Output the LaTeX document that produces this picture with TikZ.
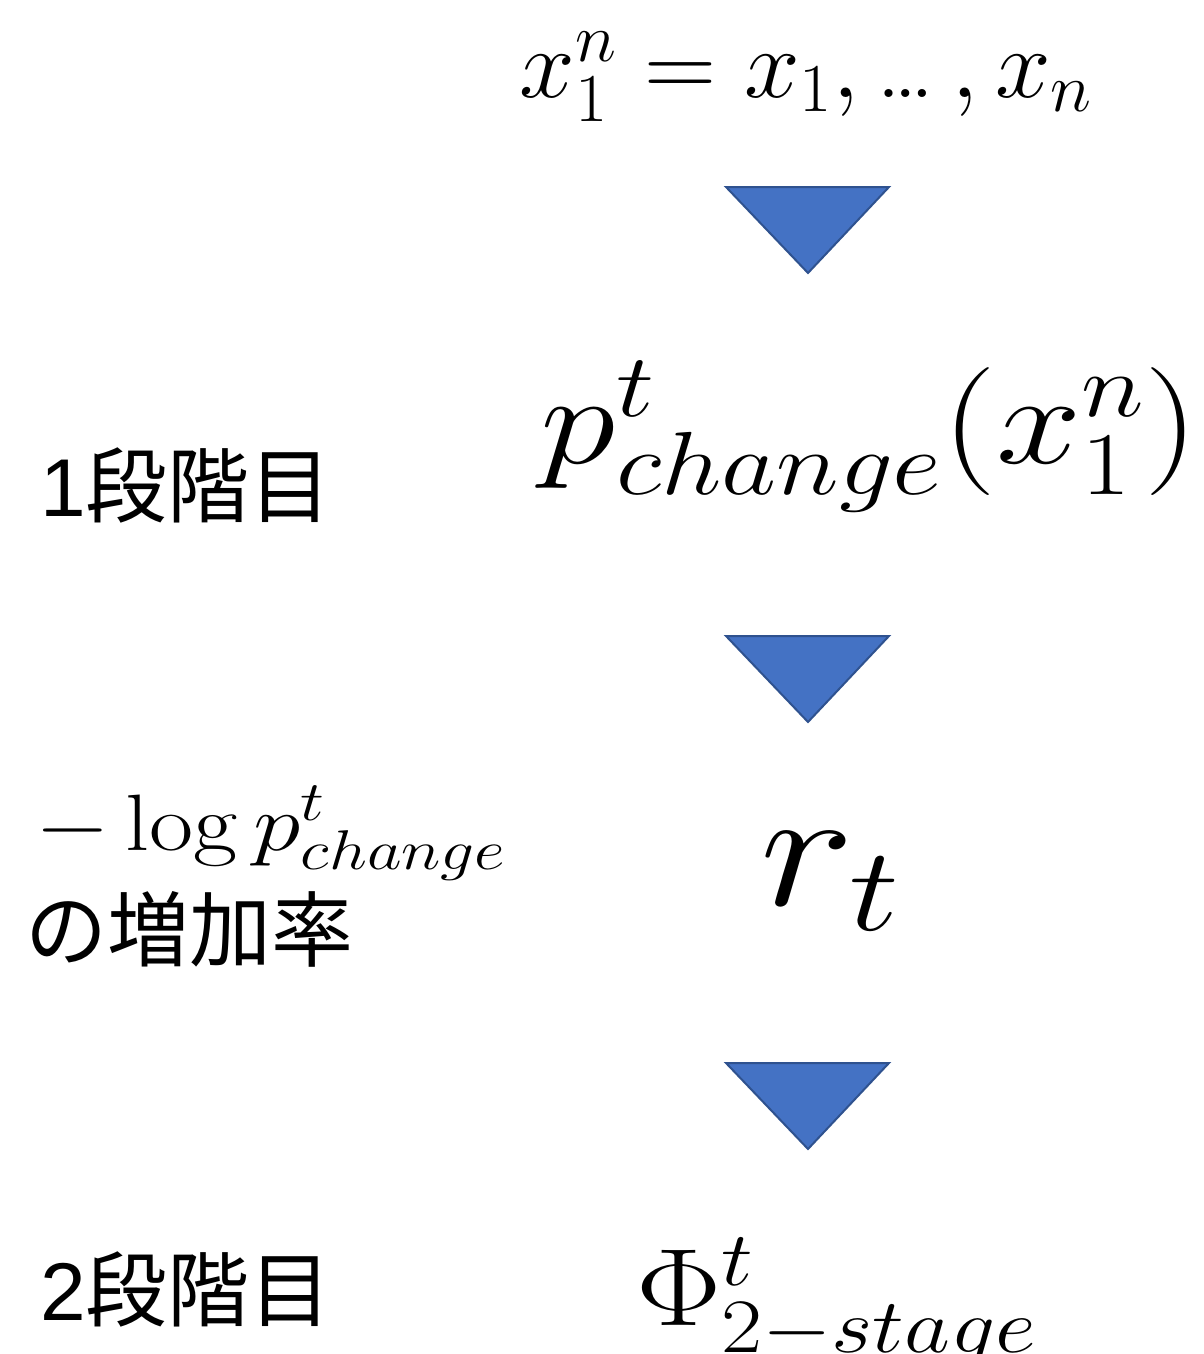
\RequirePackage{fix-cm}
\documentclass[tikz,border=0pt]{standalone}
\usepackage{graphicx}
\usepackage{fontspec}
\newfontfamily\jp{Noto Sans CJK JP}
\newfontfamily\arialish{Liberation Sans}
\definecolor{triFill}{HTML}{4472C4}
\definecolor{triLine}{HTML}{2F528F}
\begin{document}
\begin{tikzpicture}[x=1pt,y=1pt,
  tri/.style={fill=triFill,draw=triLine,line width=2pt,line join=miter},
  lbl/.style={inner sep=0pt,outer sep=0pt}]
\useasboundingbox (0,0) rectangle (1203,-1354);
% top formula
\node[lbl,anchor=base] (xs) at (806,-97) {\fontsize{98}{100}\selectfont\scalebox{1.02}[1]{$x_1^n=x_1,\mbox{…}\,,x_n$}};
% triangles
\draw[tri] (726,-187) -- (889,-187) -- (808,-273) -- cycle;
\draw[tri] (726,-636) -- (889,-636) -- (808,-722) -- cycle;
\draw[tri] (726,-1063) -- (889,-1063) -- (808,-1149) -- cycle;
% p change
\node[lbl,anchor=base] (pc) at (870,-463) {\fontsize{128}{130}\selectfont\scalebox{1.195}[1]{$p^t_{change}(x_1^n)$}};
\node[lbl,anchor=base west] (s1) at (40,-516) {\fontsize{82}{85}\selectfont\arialish 1\jp 段階目};
% r_t
\node[lbl,anchor=base] (rt) at (830,-905) {\fontsize{170}{180}\selectfont\scalebox{1.18}[1]{$r_t$}};
\node[lbl,anchor=base west] (lg) at (35,-850) {\fontsize{80}{85}\selectfont\scalebox{1.2}[1]{$-\log p^t_{change}$}};
\node[lbl,anchor=base west] (zr) at (25,-960) {\fontsize{82}{85}\selectfont\jp の増加率};
% Phi
\node[lbl,anchor=base west] (ph) at (636,-1325) {\fontsize{110}{120}\selectfont\scalebox{1.16}[1]{$\Phi^t_{2-stage}$}};
\node[lbl,anchor=base west] (s2) at (40,-1320) {\fontsize{82}{85}\selectfont\arialish 2\jp 段階目};
\end{tikzpicture}
\end{document}
